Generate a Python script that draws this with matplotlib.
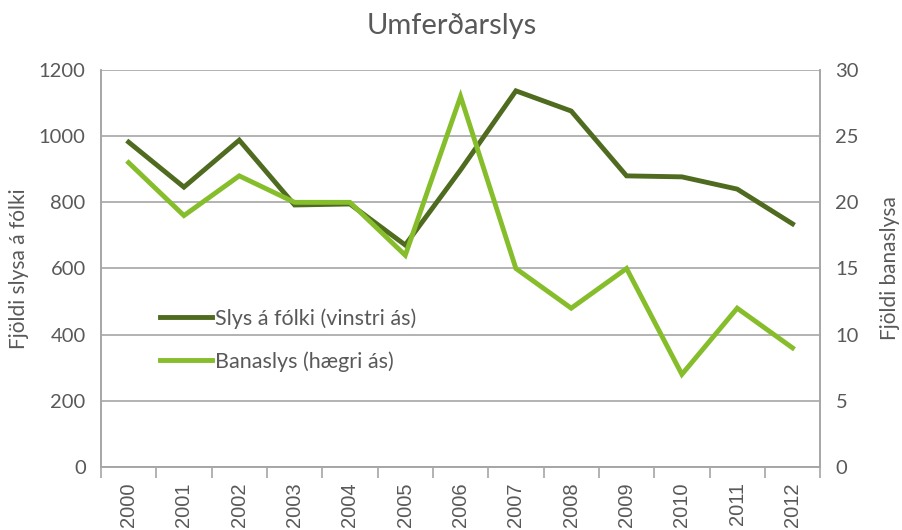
import matplotlib.pyplot as plt
import numpy as np

years = ['2000', '2001', '2002', '2003', '2004', '2005', '2006',
         '2007', '2008', '2009', '2010', '2011', '2012']
slys_a_folki = [982, 846, 988, 792, 795, 671, 898, 1137, 1076, 880, 877, 840, 735]
banaslys = [23, 19, 22, 20, 20, 16, 28, 15, 12, 15, 7, 12, 9]

dark = '#4f6b1f'
light = '#86bd2b'
grey_txt = '#595959'
grid_c = '#a6a6a6'

fig = plt.figure(figsize=(9.03, 5.30), dpi=100)
ax = fig.add_axes([0.1118, 0.1189, 0.7965, 0.749])
ax2 = ax.twinx()

x = np.arange(len(years))
l1, = ax.plot(x, slys_a_folki, color=dark, lw=3.5, solid_joinstyle='miter',
              label='Slys á fólki (vinstri ás)')
l2, = ax2.plot(x, banaslys, color=light, lw=3.5, solid_joinstyle='miter',
               label='Banaslys (hægri ás)')

ax.set_xlim(-0.5, len(years) - 0.5)
ax.set_ylim(0, 1200)
ax2.set_ylim(0, 30)
ax.set_yticks(range(0, 1201, 200))
ax2.set_yticks(range(0, 31, 5))
ax.yaxis.grid(True, color=grid_c, lw=1.2)
ax.set_axisbelow(True)

ax.set_xticks(np.arange(-0.5, len(years), 1), minor=False)
ax.set_xticklabels([])
ax.set_xticks(x, minor=True)
ax.set_xticklabels(years, minor=True, rotation=90, fontsize=14.5,
                   family='Liberation Sans', color=grey_txt)
ax.tick_params(axis='x', which='major', length=8, color=grid_c, width=1.2)
ax.tick_params(axis='x', which='minor', length=0, pad=11)

for a in (ax, ax2):
    for s in a.spines.values():
        s.set_color(grid_c)
        s.set_linewidth(1.2)
    a.spines['top'].set_visible(False)
    a.tick_params(axis='y', length=0, labelsize=14.5, labelcolor=grey_txt, pad=11)
    for t in a.get_yticklabels():
        t.set_family('Lato')

ax.set_ylabel('Fjöldi slysa á fólki', fontsize=15, color=grey_txt,
              family='Lato', labelpad=7)
ax2.set_ylabel('Fjöldi banaslysa', fontsize=15, color=grey_txt,
               family='Lato', labelpad=15)
fig.suptitle('Umferðarslys', y=0.975, fontsize=21, color=grey_txt, family='Lato')

ax.legend(handles=[l1, l2], loc='center left', bbox_to_anchor=(0.082, 0.32),
          frameon=False, labelspacing=1.05, handlelength=2.4,
          handletextpad=0.15, borderaxespad=0, borderpad=0,
          prop={'family': 'Lato', 'size': 15.5}, labelcolor=grey_txt)

fig.savefig('out.png', dpi=100)
